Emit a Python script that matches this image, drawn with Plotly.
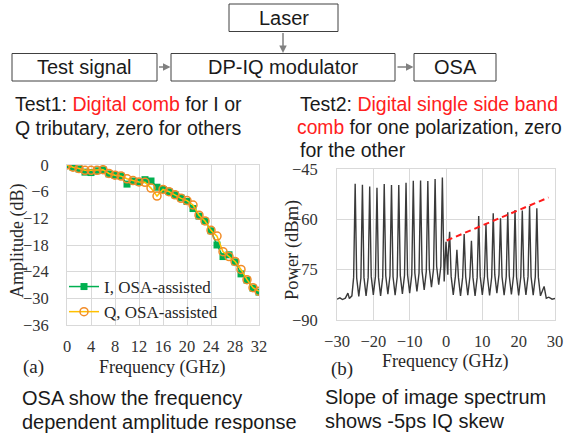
import plotly.graph_objects as go

W, H = 566, 439

# ---------------- data ----------------
# panel (a): frequency response read from OSA
freq_a = list(range(0, 33))
amp_I = [0, -0.5, -0.9, -1.6, -1.7, -1.3, -1.1, -2.0, -2.3, -2.5, -4.3, -3.6, -3.8, -3.3, -3.6, -5.0,
         -5.5, -6.0, -6.7, -7.4, -8.2, -9.8, -11.5, -12.6, -14.8, -18.0, -20.6, -20.2, -21.8, -24.5,
         -25.9, -27.7, -28.6]
amp_Q = [0, -0.5, -0.8, -1.2, -1.2, -1.2, -1.05, -1.9, -2.3, -2.5, -3.1, -3.5, -3.8, -3.9, -5.2, -7.0,
         -5.5, -6.0, -6.7, -7.5, -8.0, -9.0, -11.3, -12.6, -14.7, -16.0, -19.5, -20.6, -21.7, -23.5,
         -25.8, -27.6, -28.4]
a_xticks = [0, 4, 8, 12, 16, 20, 24, 28, 32]
a_yticks = [0, -6, -12, -18, -24, -30, -36]

# panel (b): OSA spectrum — comb lines (peaks) and the troughs between them
floor_left_freq = [-30, -29.2, -28.5, -27.7, -27.0, -26.6]
floor_left_db = [-83.8, -83.4, -83.9, -83.5, -82.0, -83.6]
peak_freq = [-25, -23, -21, -19, -17, -15, -13, -11, -9, -7, -5, -3, -1,
             0, 1, 3, 5, 7, 9, 11, 13, 15, 17, 19, 21, 23, 25, 27]
peak_db = [-49.4, -49.7, -50.2, -50.6, -49.5, -49.8, -49.8, -49.1, -48.5, -48.4, -48.6, -48.0, -47.5,
           -66.7, -63.7, -69.1, -64.4, -66.4, -59.0, -61.4, -58.2, -59.7, -57.9, -57.2, -57.4, -56.0, -56.7,
           -80.0]
# trough before each peak, plus the final one after the last peak
valley_freq = [-25.9, -24, -22, -20, -18, -16, -14, -12, -10, -8, -6, -4, -2,
               -0.5, 0.5, 2, 4, 6, 8, 10, 12, 14, 16, 18, 20, 22, 24, 26, 27.6]
valley_db = [-82.8, -83.0, -82.8, -82.5, -82.8, -82.3, -82.6, -82.2, -82.0, -81.5, -81.0, -80.2, -79.5,
             -78.5, -76.5, -82.5, -82.8, -82.6, -82.8, -82.5, -82.7, -82.0, -82.6, -82.4, -82.7, -82.5, -82.6,
             -82.8, -83.5]
floor_right_freq = [28.3, 29.2, 30]
floor_right_db = [-83.2, -83.8, -83.6]

skew_fit_freq = [0.2, 28.2]
skew_fit_db = [-66.3, -53.5]
b_xticks = [-30, -20, -10, 0, 10, 20, 30]
b_yticks = [-45, -60, -75, -90]

# ---------------- build spectrum path (peak shape styling) ----------------
SH_OFF = 0.42   # half-width of a comb line skirt (GHz), drawing style
SH_RISE = 5.5   # skirt height above the trough (dB), drawing style
sx, sy = list(floor_left_freq), list(floor_left_db)
for i, (pf, pd) in enumerate(zip(peak_freq, peak_db)):
    vl, vr = valley_db[i], valley_db[i + 1]
    sx.append(valley_freq[i]); sy.append(vl)
    if pd - max(vl, vr) > 12:
        sx += [pf - SH_OFF, pf, pf + SH_OFF]
        sy += [vl + SH_RISE, pd, vr + SH_RISE]
    else:
        sx.append(pf); sy.append(pd)
sx.append(valley_freq[-1]); sy.append(valley_db[-1])
sx += floor_right_freq; sy += floor_right_db

# ---------------- helpers ----------------
def px(x):
    return x / W

def py(y):
    return 1 - y / H

SANS = "Liberation Sans"
SERIF = "Liberation Serif"
GRID = "#d9d9d9"
TXT = "#1a1a1a"

fig = go.Figure()

fig.add_trace(go.Scatter(
    x=freq_a, y=amp_I, mode="lines+markers", name="I, OSA-assisted",
    line=dict(color="#00b050", width=1.5),
    marker=dict(symbol="square", size=7, color="#00b050"),
    xaxis="x", yaxis="y"))
fig.add_trace(go.Scatter(
    x=freq_a, y=amp_Q, mode="lines+markers", name="Q, OSA-assisted",
    line=dict(color="#ffc000", width=1.5),
    marker=dict(symbol="circle-open", size=8, color="#f28c28", line=dict(width=1.5, color="#f28c28")),
    xaxis="x", yaxis="y"))

fig.add_trace(go.Scatter(
    x=sx, y=sy, mode="lines", showlegend=False,
    line=dict(color="#3a3a3a", width=1.4),
    xaxis="x2", yaxis="y2"))
fig.add_trace(go.Scatter(
    x=skew_fit_freq, y=skew_fit_db, mode="lines", showlegend=False,
    line=dict(color="#ff1a1a", width=2, dash="6px,4px"),
    xaxis="x2", yaxis="y2"))

axis_common = dict(showgrid=True, gridcolor=GRID, gridwidth=1, zeroline=False,
                   showline=True, linecolor=GRID, linewidth=1, mirror=True, ticks="",
                   automargin=False,
                   tickfont=dict(family=SERIF, size=16.5, color="#333333"))

fig.update_layout(
    width=W, height=H, autosize=False,
    margin=dict(l=0, r=0, t=0, b=0, pad=0, autoexpand=False),
    paper_bgcolor="white", plot_bgcolor="white",
    showlegend=True,
    legend=dict(x=px(64), y=py(269), xanchor="left", yanchor="top",
                bgcolor="rgba(0,0,0,0)", tracegroupgap=0,
                font=dict(family=SERIF, size=17, color="#262626")),
    xaxis=dict(domain=[px(67), px(259)], range=[0, 32], tickvals=a_xticks,
               anchor="y", ticklabelstandoff=6, **axis_common),
    yaxis=dict(domain=[py(325), py(165)], range=[-36, 0], tickvals=a_yticks,
               anchor="x", ticklabelstandoff=14, **axis_common),
    xaxis2=dict(domain=[px(337), px(555)], range=[-30, 30], tickvals=b_xticks,
                anchor="y2", ticklabelstandoff=6, **axis_common),
    yaxis2=dict(domain=[py(320), py(169)], range=[-90, -45], tickvals=b_yticks,
                anchor="x2", ticklabelstandoff=15, **axis_common),
)

shapes = []
annotations = []

def box(x0, y0, x1, y1, text):
    shapes.append(dict(type="rect", xref="paper", yref="paper",
                       x0=px(x0), x1=px(x1), y0=py(y1), y1=py(y0),
                       line=dict(color="#404040", width=1), fillcolor="white"))
    annotations.append(dict(xref="paper", yref="paper", x=px((x0 + x1) / 2), y=py((y0 + y1) / 2),
                            xanchor="center", yanchor="middle", showarrow=False, text=text,
                            font=dict(family=SANS, size=20, color=TXT)))

box(229, 4, 338, 31.5, "Laser")
box(12, 53.5, 157, 81, "Test signal")
box(171, 53.5, 395, 81, "DP-IQ modulator")
box(414, 53.5, 496, 81, "OSA")

def arrow(hx, hy, tx, ty):
    annotations.append(dict(xref="paper", yref="paper", x=px(hx), y=py(hy),
                            ax=tx - hx, ay=ty - hy, axref="pixel", ayref="pixel",
                            text="", showarrow=True, arrowhead=2, arrowsize=1,
                            arrowwidth=1.5, arrowcolor="#808080", standoff=0, startstandoff=0))

arrow(283, 53, 283, 31.5)
arrow(170.5, 67, 157.5, 67)
arrow(413.5, 67, 396, 67)

def text(x, y, s, size=19.5, anchor="left", family=SANS, color=TXT, pad=1):
    annotations.append(dict(xref="paper", yref="paper", x=px(x), y=py(y), xanchor=anchor,
                            yanchor="middle", showarrow=False, text=s, align="left", borderpad=pad,
                            font=dict(family=family, size=size, color=color)))

RED = "<span style='color:#ff2020'>"
text(13, 104, "Test1: " + RED + "Digital comb</span> for I or")
text(13, 128, "Q tributary, zero for others")
text(298, 104, "Test2: " + RED + "Digital single side band</span>")
text(296.5, 127, RED + "comb</span> for one polarization, zero", size=19.3, pad=0)
text(298, 150, "for the other")

text(20, 398, "OSA show the frequency", size=20)
text(20, 422, "dependent amplitude response", size=20)
text(323, 397, "Slope of image spectrum", size=20)
text(323, 421, "shows -5ps IQ skew", size=20)

# axis titles and panel labels
text(162, 367, "Frequency (GHz)", size=18, anchor="center", family=SERIF, color="#262626")
text(33, 367, "(a)", size=19, anchor="center", family=SERIF, color="#262626")
text(445, 361, "Frequency (GHz)", size=18, anchor="center", family=SERIF, color="#262626")
text(342, 369, "(b)", size=19, anchor="center", family=SERIF, color="#262626")
annotations.append(dict(xref="paper", yref="paper", x=px(17), y=py(241), textangle=-90,
                        xanchor="center", yanchor="middle", showarrow=False, text="Amplitude (dB)",
                        font=dict(family=SERIF, size=18, color="#262626")))
annotations.append(dict(xref="paper", yref="paper", x=px(292), y=py(250), textangle=-90,
                        xanchor="center", yanchor="middle", showarrow=False, text="Power (dBm)",
                        font=dict(family=SERIF, size=18.5, color="#262626")))

fig.update_layout(shapes=shapes, annotations=annotations)
fig.write_html("out.html",
               post_script="document.body.style.margin='0px';document.body.style.overflow='hidden';")
